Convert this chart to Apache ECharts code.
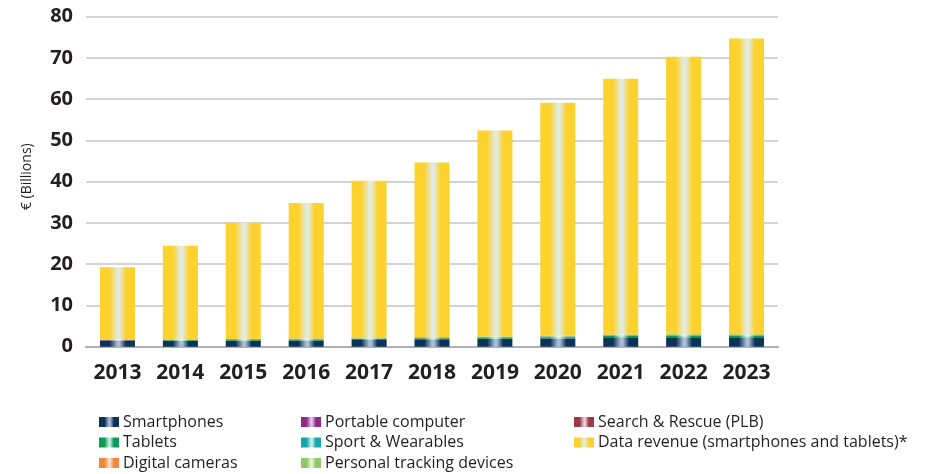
<!DOCTYPE html>
<html>
<head>
<meta charset="utf-8">
<script src="https://cdn.jsdelivr.net/npm/echarts@6/dist/echarts.min.js"></script>
<style>
  html, body { margin: 0; padding: 0; background: #fff; }
  #main { width: 930px; height: 474px; }
</style>
</head>
<body>
<div id="main"></div>
<script>
const YEARS = ['2013', '2014', '2015', '2016', '2017', '2018', '2019', '2020', '2021', '2022', '2023']

// € billions
const SMARTPHONES = [1.4, 1.4, 1.4, 1.5, 1.6, 1.8, 1.9, 2.0, 2.3, 2.3, 2.3]
const PORTABLE = [0.15, 0.05, 0.03, 0.02, 0.02, 0.02, 0.02, 0.02, 0.02, 0.02, 0.02]
const TABLETS = [0.1, 0.2, 0.25, 0.25, 0.25, 0.25, 0.25, 0.25, 0.25, 0.25, 0.25]
const CAMERAS = [0.05, 0.04, 0.04, 0.03, 0.03, 0.03, 0.03, 0.03, 0.03, 0.03, 0.03]
const SPORT = [0.02, 0.04, 0.06, 0.08, 0.1, 0.12, 0.14, 0.15, 0.16, 0.17, 0.18]
const TRACKING = [0.02, 0.03, 0.05, 0.07, 0.1, 0.12, 0.15, 0.18, 0.2, 0.22, 0.24]
const RESCUE = [0.01, 0.01, 0.01, 0.01, 0.01, 0.01, 0.01, 0.01, 0.01, 0.01, 0.01]
const DATA_REVENUE = [17.5, 22.7, 28.2, 32.9, 38.1, 42.3, 49.9, 56.5, 62.0, 67.3, 71.7]

const Y_TICKS = [0, 10, 20, 30, 40, 50, 60, 70, 80]

// bars have a light vertical sheen a little right of centre
function sheen(base, light) {
  return new echarts.graphic.LinearGradient(0, 0, 1, 0, [
    { offset: 0, color: base },
    { offset: 0.28, color: base },
    { offset: 0.5, color: light },
    { offset: 0.56, color: light },
    { offset: 0.74, color: base },
    { offset: 1, color: base },
  ])
}

const SERIES = [
  { name: 'Smartphones', data: SMARTPHONES, base: '#0b3358', light: '#a9bed6' },
  { name: 'Portable computer', data: PORTABLE, base: '#8e2a8c', light: '#e4c4e2' },
  { name: 'Tablets', data: TABLETS, base: '#0b9a5a', light: '#c8ead6' },
  { name: 'Digital cameras', data: CAMERAS, base: '#f0883c', light: '#fbe0cc' },
  { name: 'Sport & Wearables', data: SPORT, base: '#14a8aa', light: '#c8ecec' },
  { name: 'Personal tracking devices', data: TRACKING, base: '#8cc864', light: '#e2f2d6' },
  { name: 'Search & Rescue (PLB)', data: RESCUE, base: '#9a3a45', light: '#ead0d2' },
  { name: 'Data revenue (smartphones and tablets)*', data: DATA_REVENUE, base: '#fdd22e', light: '#e2ebdf' },
]

const TEXT = '#231f20'

function legend(names, left) {
  return {
    data: names,
    orient: 'vertical',
    left,
    top: 414,
    itemWidth: 20,
    itemHeight: 10,
    itemGap: 4.5,
    icon: 'rect',
    padding: 0,
    textStyle: { fontFamily: 'Open Sans', fontSize: 16, color: TEXT, lineHeight: 16, padding: [0, 0, 0, -1] },
  }
}

function main() {
  const chart = echarts.init(document.getElementById('main'))
  chart.setOption({
    animation: false,
    grid: { left: 86, right: 152, top: 16.7, bottom: 127.3 },
    legend: [
      legend(['Smartphones', 'Tablets', 'Digital cameras'], 99),
      legend(['Portable computer', 'Sport & Wearables', 'Personal tracking devices'], 301),
      legend(['Search & Rescue (PLB)', 'Data revenue (smartphones and tablets)*'], 574),
    ],
    xAxis: {
      type: 'category',
      data: YEARS,
      boundaryGap: true,
      axisLine: { lineStyle: { color: '#b0b0b0', width: 2 } },
      axisTick: { inside: true, length: 7, lineStyle: { color: '#b0b0b0', width: 2 } },
      axisLabel: { fontFamily: 'Open Sans', fontWeight: 'bold', fontSize: 21, color: TEXT, margin: 16 },
    },
    yAxis: {
      type: 'value',
      min: Y_TICKS[0],
      max: Y_TICKS[Y_TICKS.length - 1],
      interval: 10,
      name: '€ (Billions)',
      nameLocation: 'middle',
      nameGap: 52,
      nameTextStyle: { fontFamily: 'Open Sans', fontSize: 14, color: TEXT, padding: [0, 0, 0, 10] },
      axisLine: { show: false },
      axisTick: { show: false },
      splitLine: { lineStyle: { color: '#c4c4c4', width: 1.5 } },
      axisLabel: { fontFamily: 'Open Sans', fontWeight: 'bold', fontSize: 20, color: TEXT, margin: 13 },
    },
    series: SERIES.map((s) => ({
      name: s.name,
      type: 'bar',
      stack: 'total',
      barWidth: 35,
      data: s.data,
      itemStyle: { color: sheen(s.base, s.light) },
    })),
  })
}

window.onload = main
</script>
</body>
</html>
